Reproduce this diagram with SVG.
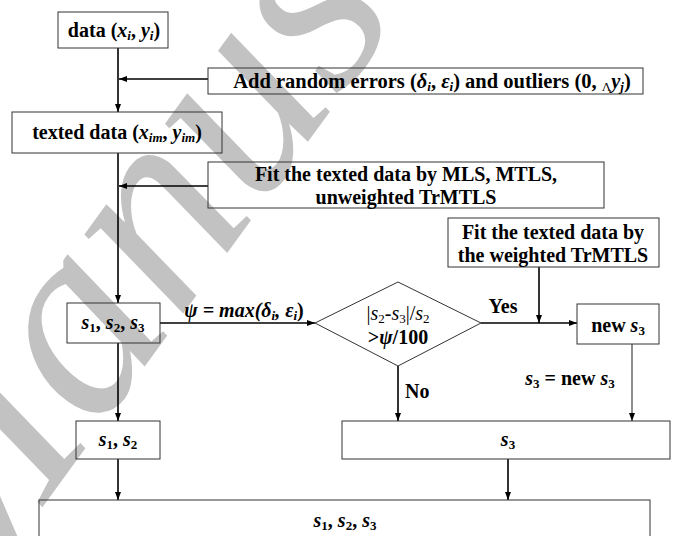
<svg xmlns="http://www.w3.org/2000/svg" width="675" height="536" viewBox="0 0 675 536">
  <defs>
    <marker id="ah" viewBox="0 0 8 6" refX="8" refY="3" markerWidth="8" markerHeight="6" markerUnits="userSpaceOnUse" orient="auto">
      <path d="M0,0 L8,3 L0,6 z" fill="#000"/>
    </marker>
    <style>
      .t { font-family: "Liberation Serif", serif; font-weight: bold; font-size: 20px; fill: #000; text-anchor: middle; }
      .n { font-weight: normal; }
      .i { font-style: italic; }
      .sb { font-size: 13px; }
      .box { fill: none; stroke: #333; stroke-width: 1; }
      .c { stroke: #000; stroke-width: 1.6; fill: none; marker-end: url(#ah); }
      .cg { stroke: #444; stroke-width: 1.2; fill: none; marker-end: url(#ah); }
      .wm { font-family: "Liberation Serif", serif; font-style: italic; font-size: 275px; fill: #c2c2c2; }
    </style>
  </defs>

  <rect width="675" height="536" fill="#fff"/>

  <!-- background watermark -->
  <text class="wm" transform="translate(-38 618) rotate(-54)">Manus</text>

  <g id="connectors">
    <line class="c" x1="118" y1="48" x2="118" y2="112"/>
    <line class="c" x1="208" y1="79" x2="119" y2="79"/>
    <line class="c" x1="118" y1="153" x2="118" y2="303"/>
    <line class="c" x1="208" y1="186" x2="119" y2="186"/>
    <line class="c" x1="160" y1="323" x2="315" y2="323"/>
    <line class="c" x1="481" y1="323" x2="577" y2="323"/>
    <line class="c" x1="539" y1="267" x2="539" y2="323"/>
    <line class="c" x1="118" y1="343" x2="118" y2="421"/>
    <line class="c" x1="398" y1="366" x2="398" y2="421"/>
    <line class="cg" x1="632" y1="344" x2="632" y2="421"/>
    <line class="c" x1="118" y1="459" x2="118" y2="500"/>
    <line class="c" x1="508" y1="459" x2="508" y2="500"/>
  </g>

  <g id="data">
    <rect class="box" x="58" y="12" width="110" height="36"/>
    <text class="t" x="114" y="37">data (<tspan class="i">x</tspan><tspan class="i sb" dy="3">i</tspan><tspan dy="-3">, </tspan><tspan class="i">y</tspan><tspan class="i sb" dy="3">i</tspan><tspan dy="-3">)</tspan></text>
  </g>

  <g id="add-errors">
    <rect class="box" x="208" y="68" width="435" height="26"/>
    <text class="t" x="432" y="88" style="font-size:20.5px">Add random errors (<tspan class="i">δ</tspan><tspan class="i sb" dy="3">i</tspan><tspan dy="-3">, </tspan><tspan class="i">ε</tspan><tspan class="i sb" dy="3">i</tspan><tspan dy="-3">) and outliers (0, </tspan><tspan class="n sb" dy="3">Λ</tspan><tspan class="i" dy="-3">y</tspan><tspan class="i sb" dy="3">j</tspan><tspan dy="-3">)</tspan></text>
  </g>

  <g id="texted-data">
    <rect class="box" x="12" y="112" width="210" height="41"/>
    <text class="t" x="117" y="139">texted data (<tspan class="i">x</tspan><tspan class="i sb" dy="3">im</tspan><tspan dy="-3">, </tspan><tspan class="i">y</tspan><tspan class="i sb" dy="3">im</tspan><tspan dy="-3">)</tspan></text>
  </g>

  <g id="fit-unweighted">
    <rect class="box" x="208" y="162" width="396" height="46"/>
    <text class="t" x="406" y="181">Fit the texted data by MLS, MTLS,</text>
    <text class="t" x="406" y="204">unweighted TrMTLS</text>
  </g>

  <g id="fit-weighted">
    <rect class="box" x="448" y="218" width="211" height="49"/>
    <text class="t" x="553" y="239">Fit the texted data by</text>
    <text class="t" x="553" y="262">the weighted TrMTLS</text>
  </g>

  <g id="s123">
    <rect class="box" x="67" y="303" width="93" height="40"/>
    <text class="t" x="113" y="329"><tspan class="i">s</tspan><tspan class="sb" dy="3">1</tspan><tspan dy="-3">, </tspan><tspan class="i">s</tspan><tspan class="sb" dy="3">2</tspan><tspan dy="-3">, </tspan><tspan class="i">s</tspan><tspan class="sb" dy="3">3</tspan></text>
  </g>

  <g id="psi-label">
    <text class="t i" x="244" y="317">ψ = max(δ<tspan class="sb" dy="3">i</tspan><tspan dy="-3">, ε</tspan><tspan class="sb" dy="3">i</tspan><tspan dy="-3" style="font-style:normal">)</tspan></text>
  </g>

  <g id="decision">
    <polygon class="box" points="315,323 398,282 481,323 398,366"/>
    <text class="t n" x="398" y="320">|<tspan class="i">s</tspan><tspan class="sb" dy="3">2</tspan><tspan dy="-3">-</tspan><tspan class="i">s</tspan><tspan class="sb" dy="3">3</tspan><tspan dy="-3">|/</tspan><tspan class="i">s</tspan><tspan class="sb" dy="3">2</tspan></text>
    <text class="t" x="398" y="344">&gt;<tspan class="i">ψ</tspan>/100</text>
  </g>

  <g id="yes-label">
    <text class="t" x="503" y="313">Yes</text>
  </g>

  <g id="no-label">
    <text class="t" x="405" y="398" style="text-anchor:start">No</text>
  </g>

  <g id="new-s3">
    <rect class="box" x="577" y="304" width="82" height="40"/>
    <text class="t" x="618" y="332">new <tspan class="i">s</tspan><tspan class="sb" dy="3">3</tspan></text>
  </g>

  <g id="assign-label">
    <text class="t" x="570" y="385"><tspan class="i">s</tspan><tspan class="sb" dy="3">3</tspan><tspan dy="-3"> = new </tspan><tspan class="i">s</tspan><tspan class="sb" dy="3">3</tspan></text>
  </g>

  <g id="s12">
    <rect class="box" x="76" y="421" width="84" height="38"/>
    <text class="t" x="118" y="446"><tspan class="i">s</tspan><tspan class="sb" dy="3">1</tspan><tspan dy="-3">, </tspan><tspan class="i">s</tspan><tspan class="sb" dy="3">2</tspan></text>
  </g>

  <g id="s3">
    <rect class="box" x="342" y="421" width="328" height="38"/>
    <text class="t" x="508" y="446"><tspan class="i">s</tspan><tspan class="sb" dy="3">3</tspan></text>
  </g>

  <g id="result">
    <rect class="box" x="39" y="500" width="611" height="60"/>
    <text class="t" x="345" y="527"><tspan class="i">s</tspan><tspan class="sb" dy="3">1</tspan><tspan dy="-3">, </tspan><tspan class="i">s</tspan><tspan class="sb" dy="3">2</tspan><tspan dy="-3">, </tspan><tspan class="i">s</tspan><tspan class="sb" dy="3">3</tspan></text>
  </g>
</svg>
